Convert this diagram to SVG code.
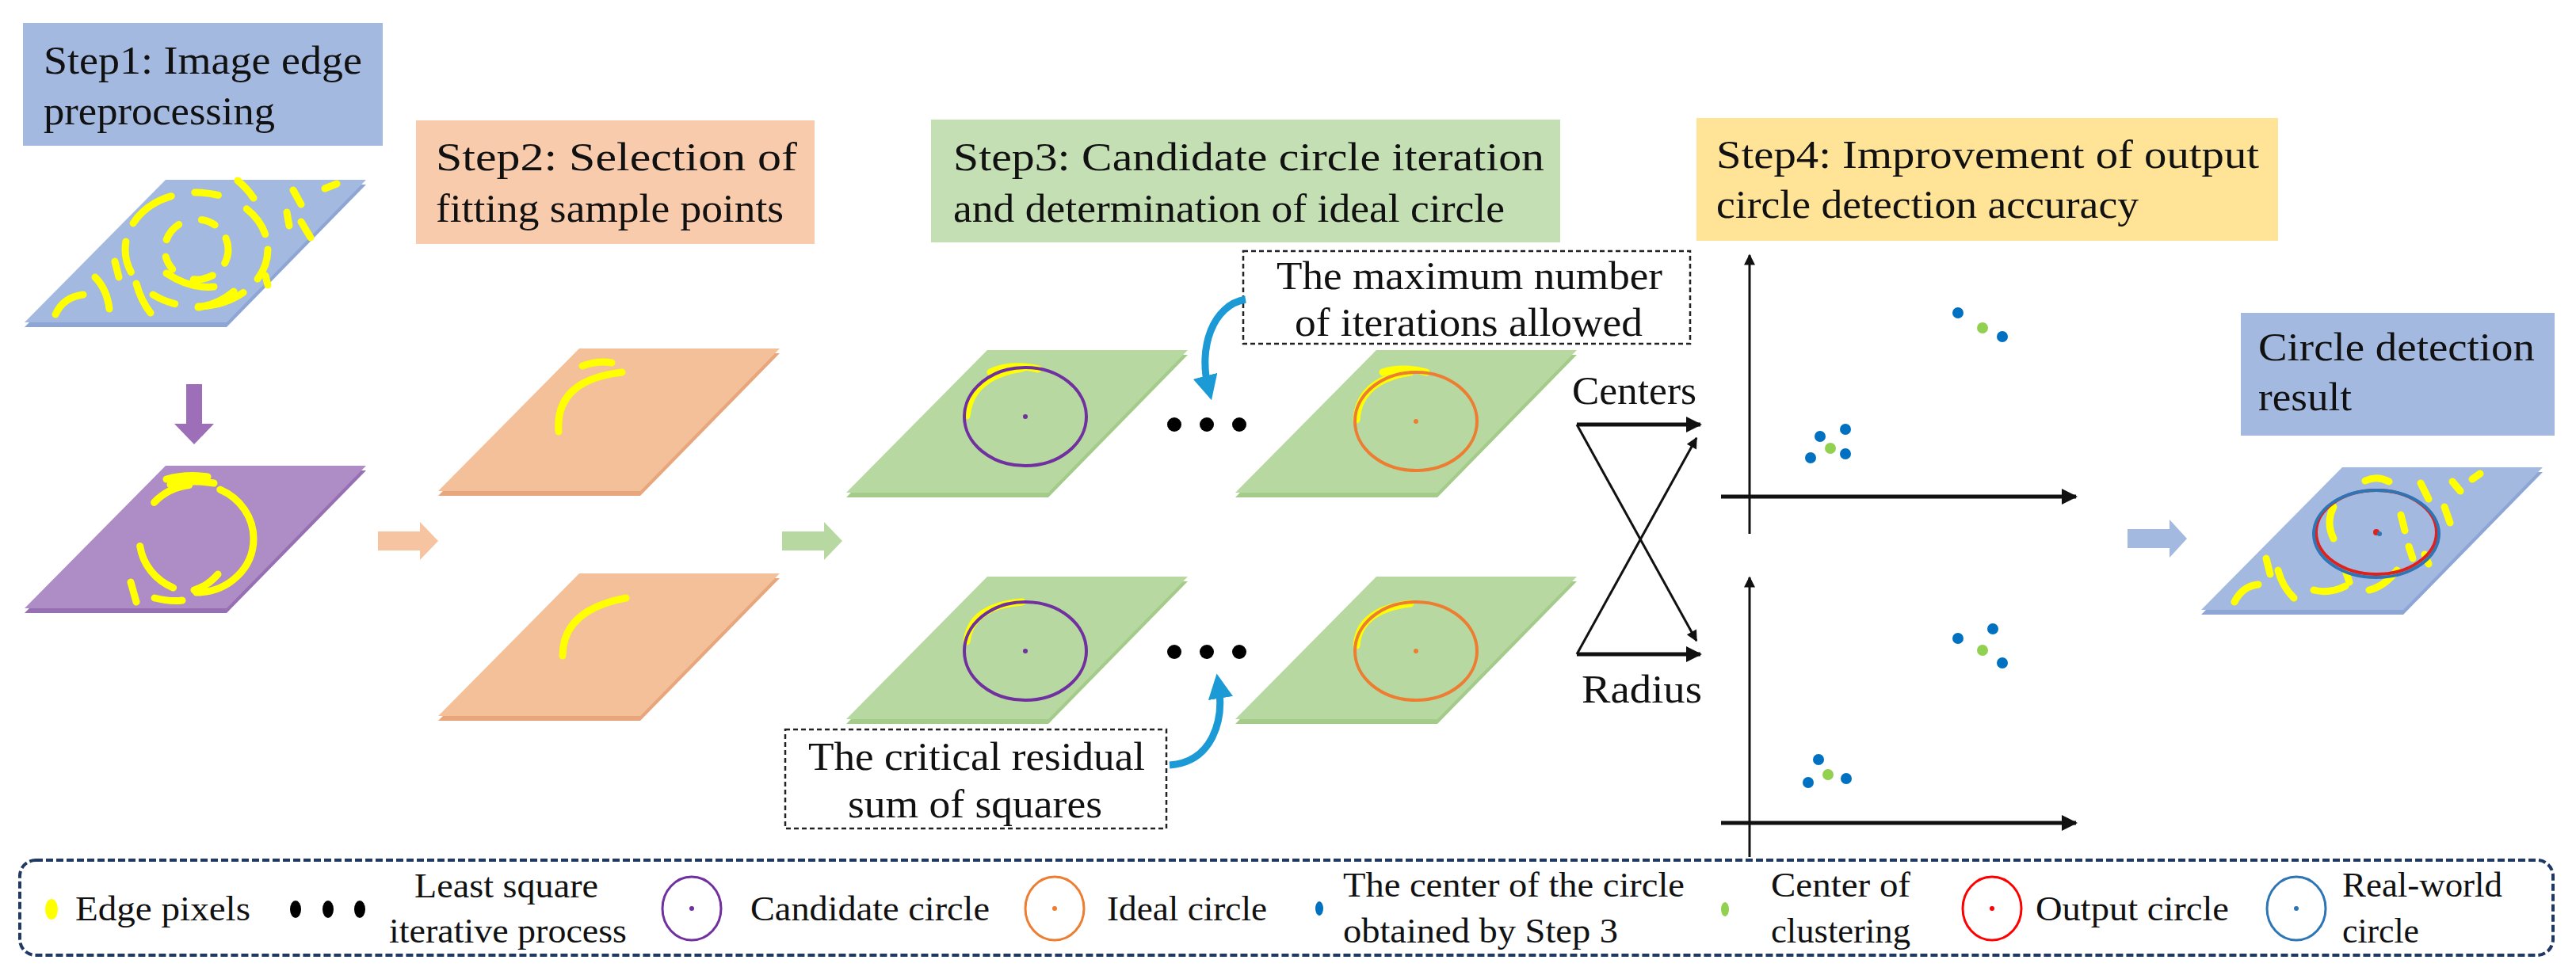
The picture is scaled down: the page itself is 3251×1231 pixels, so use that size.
<svg xmlns="http://www.w3.org/2000/svg" width="3251" height="1231" viewBox="0 0 3251 1231" font-family="'Liberation Serif','DejaVu Serif',serif">
<defs>
<style>
text{font-family:"Liberation Serif","DejaVu Serif","Noto Serif",serif;fill:#111;}
.st{font-size:50px;}
.lg{font-size:44px;}
.yl{fill:none;stroke:#FFFF00;stroke-width:9;stroke-linecap:round;}
.ln{fill:none;stroke:#111;stroke-width:3;}
.lnb{fill:none;stroke:#111;stroke-width:5;}
.dash{fill:#fff;stroke:#222;stroke-width:2.5;stroke-dasharray:6 4;}
</style>
<marker id="ah" viewBox="0 0 10 10" refX="9" refY="5" markerWidth="22" markerHeight="20" markerUnits="userSpaceOnUse" orient="auto"><path d="M0,0 L10,5 L0,10 z" fill="#111"/></marker>
<marker id="ahL" viewBox="0 0 10 10" refX="9" refY="5" markerWidth="18" markerHeight="14" markerUnits="userSpaceOnUse" orient="auto"><path d="M0,0 L10,5 L0,10 z" fill="#111"/></marker>
<marker id="ahB" viewBox="0 0 10 10" refX="5" refY="5" markerWidth="3.5" markerHeight="3.5" orient="auto"><path d="M0,0 L10,5 L0,10 z" fill="#1B9AD6"/></marker>
</defs>
<rect width="3251" height="1231" fill="#fff"/>

<g id="step1">
<rect x="29" y="29" width="454" height="155" fill="#A4B9E0"/>
<text class="st" x="55" y="93" textLength="402" lengthAdjust="spacingAndGlyphs">Step1: Image edge</text>
<text class="st" x="55" y="157" textLength="292" lengthAdjust="spacingAndGlyphs">preprocessing</text>
</g>
<g id="plate1">
<polygon points="209,233 462,233 286,413 31,413" fill="#8EA6D6"/>
<polygon points="209,227 462,227 286,407 31,407" fill="#A4B9E0"/>
<ellipse cx="248" cy="315" rx="90" ry="72" class="yl" stroke-dasharray="40 25 60 30 30 40"/>
<ellipse cx="248" cy="315" rx="40" ry="38" class="yl" stroke-dasharray="18 22 25 30"/>
<path class="yl" d="M70,397 Q80,375 105,372 M120,350 Q135,365 138,390 M172,358 Q178,380 190,395 M210,345 Q240,365 270,362 M250,388 Q275,385 295,368 M300,228 Q312,238 320,250 M370,240 L380,258 M410,238 L425,232 M362,268 L365,285 M380,280 L392,300 M335,348 L338,360 M145,330 L150,350"/>
</g>
<g id="arrowDown">
<polygon points="235,485 255,485 255,535 270,535 245,561 220,535 235,535" fill="#9C6FB8"/>
</g>
<g id="plate2">
<polygon points="209,594 462,594 286,774 31,774" fill="#9670B2"/>
<polygon points="209,588 462,588 286,768 31,768" fill="#AE8DC6"/>
<ellipse cx="248" cy="680" rx="72" ry="68" class="yl" stroke-dasharray="110 30 70 60 50 40 90 20"/>
<path class="yl" d="M210,605 Q235,598 262,602 M215,612 Q240,605 270,610 M165,735 L172,760 M195,755 Q215,760 230,758 M245,745 Q262,740 275,725"/>
</g>

<g id="step2">
<rect x="525" y="152" width="503" height="156" fill="#F7CBAC"/>
<text class="st" x="550" y="215" textLength="456" lengthAdjust="spacingAndGlyphs">Step2:  Selection  of</text>
<text class="st" x="550" y="280" textLength="439" lengthAdjust="spacingAndGlyphs">fitting sample points</text>
</g>
<g id="plateO1">
<polygon points="731,446 984,446 808,626 553,626" fill="#E8A67C"/>
<polygon points="731,440 984,440 808,620 553,620" fill="#F4C09A"/>
<path class="yl" d="M705,545 Q700,480 785,470 M735,462 Q755,455 772,458"/>
</g>
<g id="plateO2">
<polygon points="731,730 984,730 808,910 553,910" fill="#E8A67C"/>
<polygon points="731,724 984,724 808,904 553,904" fill="#F4C09A"/>
<path class="yl" d="M710,828 Q710,770 790,755"/>
</g>
<g id="arrowO"><polygon points="477,671 530,671 530,659 553,683 530,707 530,695 477,695" fill="#F7C4A2"/></g>

<g id="step3">
<rect x="1175" y="151" width="794" height="155" fill="#C5DFB4"/>
<text class="st" x="1203" y="215" textLength="746" lengthAdjust="spacingAndGlyphs">Step3:  Candidate  circle  iteration</text>
<text class="st" x="1203" y="280" textLength="696" lengthAdjust="spacingAndGlyphs">and determination of ideal circle</text>
</g>
<g id="arrowG"><polygon points="987,671 1040,671 1040,659 1063,683 1040,707 1040,695 987,695" fill="#B8D8A2"/></g>
<g id="plateG1">
<polygon points="1246,448 1499,448 1323,628 1068,628" fill="#A4CB89"/>
<polygon points="1246,442 1499,442 1323,622 1068,622" fill="#B8D8A2"/>
<path class="yl" d="M1220,525 Q1225,475 1290,465 M1250,470 Q1275,458 1310,466"/>
<ellipse cx="1294" cy="526" rx="77" ry="62" fill="none" stroke="#7030A0" stroke-width="4"/>
<circle cx="1294" cy="526" r="3" fill="#7030A0"/>
</g>
<g id="plateG2">
<polygon points="1737,448 1990,448 1814,628 1559,628" fill="#A4CB89"/>
<polygon points="1737,442 1990,442 1814,622 1559,622" fill="#B8D8A2"/>
<path class="yl" d="M1712,530 Q1715,480 1780,470 M1745,470 Q1770,462 1800,470"/>
<ellipse cx="1787" cy="532" rx="77" ry="62" fill="none" stroke="#ED7D31" stroke-width="4"/>
<circle cx="1787" cy="532" r="3" fill="#ED7D31"/>
</g>
<g id="plateG3">
<polygon points="1246,734 1499,734 1323,914 1068,914" fill="#A4CB89"/>
<polygon points="1246,728 1499,728 1323,908 1068,908" fill="#B8D8A2"/>
<path class="yl" d="M1220,810 Q1225,765 1290,760"/>
<ellipse cx="1294" cy="822" rx="77" ry="62" fill="none" stroke="#7030A0" stroke-width="4"/>
<circle cx="1294" cy="822" r="3" fill="#7030A0"/>
</g>
<g id="plateG4">
<polygon points="1737,734 1990,734 1814,914 1559,914" fill="#A4CB89"/>
<polygon points="1737,728 1990,728 1814,908 1559,908" fill="#B8D8A2"/>
<path class="yl" d="M1712,815 Q1715,770 1780,762"/>
<ellipse cx="1787" cy="822" rx="77" ry="62" fill="none" stroke="#ED7D31" stroke-width="4"/>
<circle cx="1787" cy="822" r="3" fill="#ED7D31"/>
</g>
<g id="dots1" fill="#000"><circle cx="1482" cy="536" r="9"/><circle cx="1523" cy="536" r="9"/><circle cx="1564" cy="536" r="9"/></g>
<g id="dots2" fill="#000"><circle cx="1482" cy="823" r="9"/><circle cx="1523" cy="823" r="9"/><circle cx="1564" cy="823" r="9"/></g>
<g id="note1">
<rect class="dash" x="1569" y="317" width="564" height="117"/>
<text class="st" x="1611" y="365" textLength="487" lengthAdjust="spacingAndGlyphs">The maximum number</text>
<text class="st" x="1634" y="424" textLength="439" lengthAdjust="spacingAndGlyphs">of iterations allowed</text>
</g>
<g id="note2">
<rect class="dash" x="991" y="921" width="481" height="125"/>
<text class="st" x="1020" y="972" textLength="425" lengthAdjust="spacingAndGlyphs">The critical residual</text>
<text class="st" x="1070" y="1032" textLength="321" lengthAdjust="spacingAndGlyphs">sum of squares</text>
</g>

<g id="step4">
<rect x="2141" y="149" width="734" height="155" fill="#FFE497"/>
<text class="st" x="2166" y="212" textLength="685" lengthAdjust="spacingAndGlyphs">Step4:  Improvement  of  output</text>
<text class="st" x="2166" y="275" textLength="533" lengthAdjust="spacingAndGlyphs">circle detection accuracy</text>
</g>
<g id="labels">
<text class="st" x="1984" y="510" textLength="157" lengthAdjust="spacingAndGlyphs">Centers</text>
<text class="st" x="1996" y="887" textLength="152" lengthAdjust="spacingAndGlyphs">Radius</text>
</g>
<g id="graph1">
<line class="ln" x1="2208" y1="674" x2="2208" y2="322" marker-end="url(#ahL)"/>
<line class="lnb" x1="2172" y1="627" x2="2620" y2="627" marker-end="url(#ah)"/>
<g fill="#0070C0"><circle cx="2297" cy="551" r="7"/><circle cx="2329" cy="542" r="7"/><circle cx="2285" cy="578" r="7"/><circle cx="2329" cy="573" r="7"/><circle cx="2471" cy="395" r="7"/><circle cx="2527" cy="425" r="7"/></g>
<g fill="#92D050"><circle cx="2310" cy="566" r="7"/><circle cx="2502" cy="414" r="7"/></g>
</g>
<g id="graph2">
<line class="ln" x1="2208" y1="1082" x2="2208" y2="729" marker-end="url(#ahL)"/>
<line class="lnb" x1="2172" y1="1039" x2="2620" y2="1039" marker-end="url(#ah)"/>
<g fill="#0070C0"><circle cx="2471" cy="806" r="7"/><circle cx="2515" cy="794" r="7"/><circle cx="2527" cy="837" r="7"/><circle cx="2295" cy="959" r="7"/><circle cx="2282" cy="988" r="7"/><circle cx="2330" cy="983" r="7"/></g>
<g fill="#92D050"><circle cx="2502" cy="821" r="7"/><circle cx="2307" cy="978" r="7"/></g>
</g>
<g id="arrowB"><polygon points="2685,668 2738,668 2738,656 2760,680 2738,704 2738,692 2685,692" fill="#A4B9E0"/></g>
<g id="result">
<rect x="2828" y="395" width="396" height="155" fill="#A4B9E0"/>
<text class="st" x="2850" y="455" textLength="349" lengthAdjust="spacingAndGlyphs">Circle detection</text>
<text class="st" x="2850" y="518" textLength="118" lengthAdjust="spacingAndGlyphs">result</text>
</g>
<g id="plateR">
<polygon points="2956,596 3209,596 3033,776 2778,776" fill="#8EA6D6"/>
<polygon points="2956,590 3209,590 3033,770 2778,770" fill="#A4B9E0"/>
<path class="yl" d="M2820,760 Q2830,740 2850,738 M2875,720 Q2880,740 2895,755 M2860,705 L2865,725 M2920,745 Q2940,750 2960,740 M2990,745 Q3010,740 3025,720 M3030,650 L3035,670 M3055,610 L3065,630 M3095,608 L3105,620 M3120,605 L3130,598 M3085,640 L3092,660 M3060,700 L3065,712 M2985,607 Q3000,600 3015,608 M2945,640 Q2935,660 2945,680 M3040,690 L3045,705 M2960,720 L2965,735"/>
<ellipse cx="2999" cy="672" rx="76" ry="53" fill="none" stroke="#E0201A" stroke-width="4"/>
<ellipse cx="2999" cy="674" rx="79" ry="55" fill="none" stroke="#2E75B6" stroke-width="4"/>
<circle cx="2999" cy="672" r="4" fill="#E0201A"/>
<circle cx="3003" cy="674" r="3" fill="#2E75B6"/>
</g>

<g id="connectors">
<line class="lnb" x1="1990" y1="536" x2="2146" y2="536" marker-end="url(#ah)"/>
<line class="lnb" x1="1990" y1="826" x2="2146" y2="826" marker-end="url(#ah)"/>
<line class="ln" x1="1990" y1="536" x2="2141" y2="809" marker-end="url(#ahL)"/>
<line class="ln" x1="1990" y1="826" x2="2141" y2="553" marker-end="url(#ahL)"/>
<path d="M1572,378 C1530,385 1512,440 1525,490" fill="none" stroke="#1B9AD6" stroke-width="9" marker-end="url(#ahB)"/>
<path d="M1476,966 C1530,962 1545,910 1538,866" fill="none" stroke="#1B9AD6" stroke-width="9" marker-end="url(#ahB)"/>
</g>

<g id="legend">
<rect x="25" y="1086" width="3197" height="120" rx="20" fill="none" stroke="#1F3864" stroke-width="4" stroke-dasharray="9 4"/>
<ellipse cx="65" cy="1148" rx="8" ry="13" fill="#FFFF00"/>
<text class="lg" x="95" y="1162" textLength="221" lengthAdjust="spacingAndGlyphs">Edge pixels</text>
<g fill="#000"><ellipse cx="373" cy="1148" rx="7" ry="11"/><ellipse cx="414" cy="1148" rx="7" ry="11"/><ellipse cx="454" cy="1148" rx="7" ry="11"/></g>
<text class="lg" x="523" y="1133" textLength="232" lengthAdjust="spacingAndGlyphs">Least square</text>
<text class="lg" x="491" y="1190" textLength="300" lengthAdjust="spacingAndGlyphs">iterative process</text>
<ellipse cx="873" cy="1147" rx="37" ry="40" fill="none" stroke="#7030A0" stroke-width="3"/><circle cx="873" cy="1147" r="3" fill="#7030A0"/>
<text class="lg" x="947" y="1162" textLength="302" lengthAdjust="spacingAndGlyphs">Candidate circle</text>
<ellipse cx="1331" cy="1147" rx="37" ry="40" fill="none" stroke="#ED7D31" stroke-width="3"/><circle cx="1331" cy="1147" r="3" fill="#ED7D31"/>
<text class="lg" x="1397" y="1162" textLength="202" lengthAdjust="spacingAndGlyphs">Ideal circle</text>
<ellipse cx="1665" cy="1147" rx="5" ry="9" fill="#0070C0"/>
<text class="lg" x="1695" y="1132" textLength="431" lengthAdjust="spacingAndGlyphs">The center of the circle</text>
<text class="lg" x="1695" y="1190" textLength="347" lengthAdjust="spacingAndGlyphs">obtained by Step 3</text>
<ellipse cx="2177" cy="1148" rx="5" ry="9" fill="#92D050"/>
<text class="lg" x="2235" y="1132" textLength="176" lengthAdjust="spacingAndGlyphs">Center of</text>
<text class="lg" x="2235" y="1190" textLength="176" lengthAdjust="spacingAndGlyphs">clustering</text>
<ellipse cx="2514" cy="1147" rx="37" ry="40" fill="none" stroke="#FF0000" stroke-width="3"/><circle cx="2514" cy="1147" r="3" fill="#FF0000"/>
<text class="lg" x="2569" y="1162" textLength="244" lengthAdjust="spacingAndGlyphs">Output circle</text>
<ellipse cx="2898" cy="1147" rx="37" ry="40" fill="none" stroke="#2E75B6" stroke-width="3"/><circle cx="2898" cy="1147" r="3" fill="#2E75B6"/>
<text class="lg" x="2956" y="1132" textLength="202" lengthAdjust="spacingAndGlyphs">Real-world</text>
<text class="lg" x="2956" y="1190" textLength="97" lengthAdjust="spacingAndGlyphs">circle</text>
</g>
</svg>
